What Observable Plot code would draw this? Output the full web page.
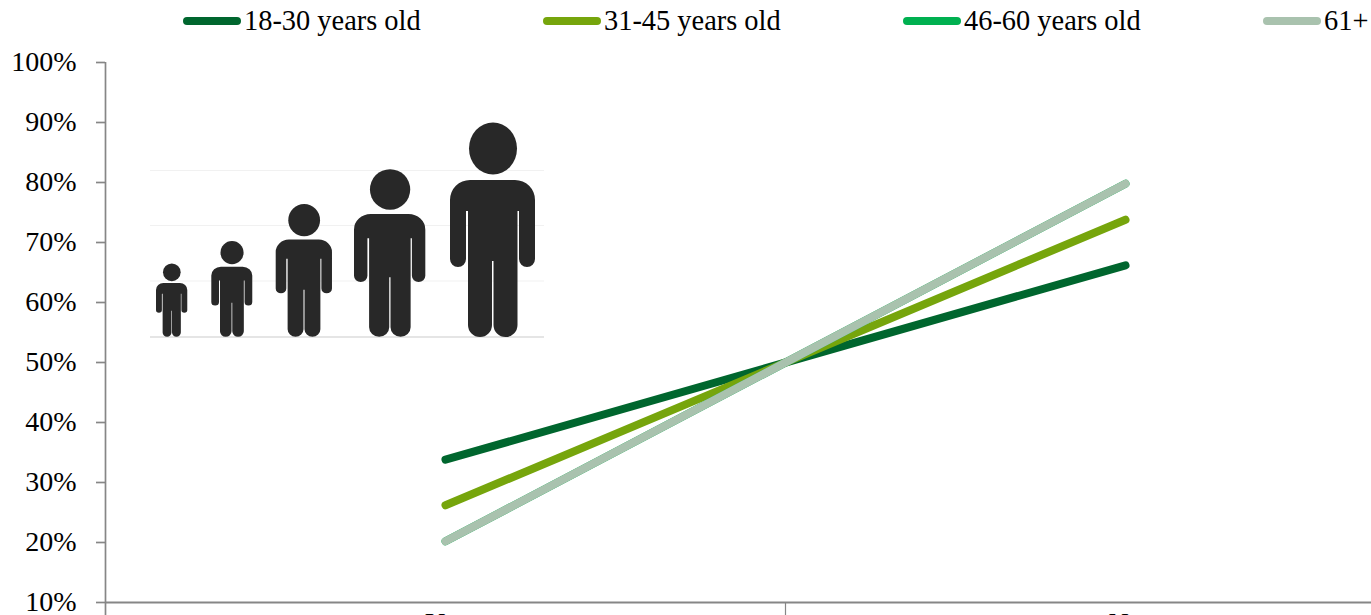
<!DOCTYPE html>
<html>
<head>
<meta charset="utf-8">
<script src="https://cdn.jsdelivr.net/npm/d3@7"></script>
<script src="https://cdn.jsdelivr.net/npm/@observablehq/plot@0.6"></script>
<style>
html,body{margin:0;padding:0;background:#fff;width:1371px;height:615px;overflow:hidden}
#page{position:relative;width:1371px;height:615px;overflow:hidden;font-family:"Liberation Serif",serif;color:#000}
#legend{height:42px;box-sizing:border-box;padding-left:183px;display:flex;align-items:flex-start;font-size:28.4px;line-height:28px;padding-top:7px}
.item{width:360px;flex:none;display:flex;align-items:center;white-space:nowrap}
.sw{width:58px;height:8.5px;border-radius:4.25px;margin-right:3px;flex:none}
#icon{position:absolute;left:0;top:0}
</style>
</head>
<body>
<div id="page">
  <div id="legend"></div>
  <div id="chart"></div>
  <svg id="icon" width="1371" height="615" viewBox="0 0 1371 615">
    <defs>
      <g id="person">
        <ellipse cx="43" cy="24.5" rx="24" ry="26"/>
        <path d="M20 56H65A20 20 0 0 1 85 76V135A8 8 0 0 1 69 135V87H67.5V201A12 12 0 0 1 43.5 201V137H42V201A12 12 0 0 1 18 201V87H16V135A8 8 0 0 1 0 135V76A20 20 0 0 1 20 56Z"/>
      </g>
    </defs>
    <g stroke="#f1f1f1" stroke-width="1.2">
      <line x1="150" x2="544" y1="170.5" y2="170.5"/>
      <line x1="150" x2="544" y1="225.5" y2="225.5"/>
      <line x1="150" x2="544" y1="281" y2="281"/>
    </g>
    <line x1="150" x2="544" y1="337" y2="337" stroke="#dcdcdc" stroke-width="1.5"/>
    <g fill="#282828">
      <use href="#person" transform="translate(156 264) scale(.368 .341)"/>
      <use href="#person" transform="translate(211.3 241.7) scale(.482 .446)"/>
      <use href="#person" transform="translate(275.7 205) scale(.662 .618)"/>
      <use href="#person" transform="translate(354 170.3) scale(.839 .781)"/>
      <use href="#person" transform="translate(450 124)"/>
    </g>
  </svg>
</div>
<script>
const categories = ["Yes", "No"];
const seriesNames = ["18-30 years old", "31-45 years old", "46-60 years old", "61+"];
const colors = ["#00662E", "#76A50C", "#00B050", "#A9C2AE"];
const values1830 = [33.8, 66.2];
const values3145 = [26.2, 73.8];
const values4660 = [20.2, 79.8];
const values61 = [20.2, 79.8];
const yTicks = [10, 20, 30, 40, 50, 60, 70, 80, 90, 100];

const allValues = [values1830, values3145, values4660, values61];
const rows = seriesNames.flatMap((s, i) =>
  categories.map((c, j) => ({series: s, category: c, pos: j + 0.5, value: allValues[i][j]})));

const legend = document.getElementById("legend");
seriesNames.forEach((s, i) => {
  const item = document.createElement("div");
  item.className = "item";
  const sw = document.createElement("span");
  sw.className = "sw";
  sw.style.background = colors[i];
  const label = document.createElement("span");
  label.textContent = s;
  item.append(sw, label);
  legend.append(item);
});

const grey = "#868686";
const plot = Plot.plot({
  width: 1465,
  height: 600,
  marginLeft: 105,
  marginRight: 0,
  marginTop: 20,
  marginBottom: 40,
  style: {fontFamily: '"Liberation Serif", serif', fontSize: "28px", color: "#000", maxWidth: "none", background: "transparent", overflow: "hidden"},
  x: {domain: [0, 2], axis: null},
  y: {domain: [10, 100]},
  color: {domain: seriesNames, range: colors},
  marks: [
    Plot.axisY(yTicks, {
      tickSize: 9, tickPadding: 20, stroke: grey, strokeWidth: 1.7, label: null,
      tickFormat: d => d + "%", fontSize: 28, fill: "#000"
    }),
    Plot.ruleX([0], {y1: 100, y2: 7, stroke: grey, strokeWidth: 1.7}),
    Plot.ruleX([1, 2], {y1: 10, y2: 7, stroke: grey, strokeWidth: 1.2}),
    Plot.ruleY([10], {x1: 0, x2: 2, stroke: grey, strokeWidth: 2}),
    Plot.text(categories, {
      x: (d, i) => i + 0.5, y: 10, text: d => d, dy: 9.5, lineAnchor: "top",
      fontSize: 28, fill: "#000"
    }),
    Plot.line(rows, {
      x: "pos", y: "value", z: "series", stroke: "series",
      strokeWidth: 8, strokeLinecap: "round", strokeLinejoin: "round"
    })
  ]
});
plot.style.maxWidth = "none";
plot.style.height = "600px";
document.getElementById("chart").append(plot);
</script>
</body>
</html>
